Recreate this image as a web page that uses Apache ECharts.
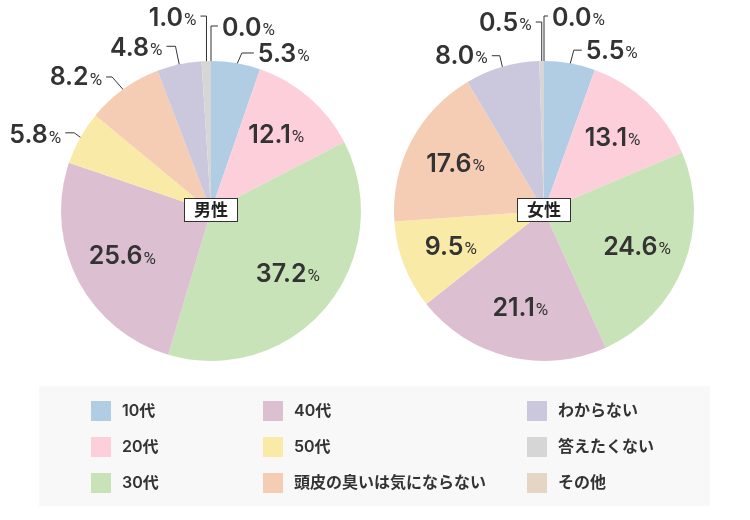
<!DOCTYPE html>
<html>
<head>
<meta charset="utf-8">
<script src="https://cdn.jsdelivr.net/npm/echarts@6/dist/echarts.min.js"></script>
<style>
html,body{margin:0;padding:0;background:#fff;}
#chart{width:750px;height:520px;}
</style>
</head>
<body>
<div id="chart"></div>
<script>
const categories = ['10代','20代','30代','40代','50代','頭皮の臭いは気にならない','わからない','答えたくない','その他'];
const colors = ['#b1cde3','#fccfdb','#c8e3b7','#dcc0d1','#f9eaa8','#f4cdb4','#cbc8dd','#d6d6d6','#e5d5c5'];
const maleValues = [5.3,12.1,37.2,25.6,5.8,8.2,4.8,1.0,0.0];
const femaleValues = [5.5,13.1,24.6,21.1,9.5,17.6,8.0,0.5,0.0];
const groupNames = ['男性','女性'];
const legendCol1 = ['10代','20代','30代'];
const legendCol2 = ['40代','50代','頭皮の臭いは気にならない'];
const legendCol3 = ['わからない','答えたくない','その他'];

const FONT = 'Inter, "Noto Sans CJK JP", "Noto Sans", sans-serif';
const NUMFONT = 'Inter, Roboto, "Noto Sans", sans-serif';
const PCTFONT = 'Roboto, "Noto Sans", sans-serif';
const centers = [[211,211],[544,211]];
const R = 150;

// leader-line styling for outside labels: [bend dx, bend dy, horizontal run, label dy]
const leaderStyle = [
  { 0: [7,-16,12,1], 8: [0,-41,7,2], 7: [0,-51,-6,2], 6: [-5,-24,-9,2], 5: [-15,-17,-6,1], 4: [-11,-8,-9,3] },
  { 0: [5,-19,8,1], 8: [0,-51,4,2], 7: [0,-45,-6,1], 6: [-4,-17,-8,1] }
];

function buildData(vals){
  return vals.map((v,i)=>{
    const inside = v >= 9;
    return {
      name: categories[i],
      value: v,
      label: { position: inside ? 'inside' : 'outside' },
      labelLine: { show: !inside }
    };
  });
}

function makeSeries(vals, idx){
  return {
    type: 'pie',
    name: groupNames[idx],
    center: centers[idx],
    radius: [0, R],
    startAngle: 90,
    clockwise: true,
    avoidLabelOverlap: false,
    stillShowZeroSum: true,
    minShowLabelAngle: 0,
    itemStyle: { borderWidth: 0 },
    emphasis: { disabled: true },
    label: {
      show: true,
      formatter: p => '{v|' + p.value.toFixed(1) + '}{p|%}',
      rich: {
        v: { fontFamily: NUMFONT, fontSize: 25, fontWeight: 600, color: '#333' },
        p: { fontFamily: PCTFONT, fontSize: 17, fontWeight: 400, color: '#333', padding: [5,0,0,1] }
      }
    },
    labelLine: { length: 12, length2: 10, lineStyle: { color: '#333', width: 1 } },
    labelLayout: function(params){
      const si = params.seriesIndex;
      const c = centers[si];
      const vals = si === 0 ? maleValues : femaleValues;
      const v = vals[params.dataIndex];
      if (v >= 9) {
        const r = params.labelRect;
        const cx = r.x + r.width/2, cy = r.y + r.height/2;
        return { dx: (cx - c[0]) * 0.28, dy: (cy - c[1]) * 0.28 };
      }
      const st = leaderStyle[si][params.dataIndex];
      const pts = params.labelLinePoints;
      if (!st || !pts) return {};
      const edge = pts[0];
      const start = [c[0] + (edge[0]-c[0])*0.96, c[1] + (edge[1]-c[1])*0.96];
      const bend = [start[0] + st[0], start[1] + st[1]];
      const end = [bend[0] + st[2], bend[1]];
      const sign = st[2] >= 0 ? 1 : -1;
      return {
        x: end[0] + sign * 4,
        y: end[1] + st[3],
        align: sign > 0 ? 'left' : 'right',
        verticalAlign: 'middle',
        labelLinePoints: [start, bend, end]
      };
    },
    data: buildData(vals)
  };
}

function legend(data, left){
  return {
    data: data, orient: 'vertical', left: left, top: 401, padding: 0,
    itemWidth: 20, itemHeight: 20, itemGap: 16, icon: 'rect',
    selectedMode: false,
    textStyle: { fontFamily: FONT, fontSize: 16, fontWeight: 600, color: '#333', padding: [0,0,0,6] }
  };
}

const chart = echarts.init(document.getElementById('chart'));
chart.setOption({
  animation: false,
  color: colors,
  graphic: [
    { type: 'rect', z: -10, shape: { x: 39, y: 386, width: 671, height: 120 }, style: { fill: '#f8f8f8' } },
    { type: 'text', z: 100, x: centers[0][0], y: centers[0][1] - 1,
      style: { text: groupNames[0], align: 'center', verticalAlign: 'middle', font: 'bold 17px "Noto Sans CJK JP", sans-serif', fill: '#222',
        backgroundColor: '#fff', borderColor: '#333', borderWidth: 1, padding: [3,9,2,9] } },
    { type: 'text', z: 100, x: centers[1][0], y: centers[1][1] - 1,
      style: { text: groupNames[1], align: 'center', verticalAlign: 'middle', font: 'bold 17px "Noto Sans CJK JP", sans-serif', fill: '#222',
        backgroundColor: '#fff', borderColor: '#333', borderWidth: 1, padding: [3,9,2,9] } }
  ],
  legend: [ legend(legendCol1, 91), legend(legendCol2, 263), legend(legendCol3, 527) ],
  series: [ makeSeries(maleValues, 0), makeSeries(femaleValues, 1) ]
});
</script>
</body>
</html>
